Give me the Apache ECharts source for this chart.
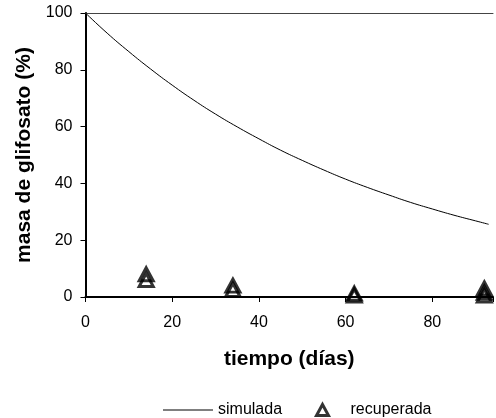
<!DOCTYPE html>
<html><head><meta charset="utf-8">
<script src="https://cdn.jsdelivr.net/npm/echarts@6/dist/echarts.min.js"></script>
<style>html,body{margin:0;padding:0;background:#fff}#c{width:496px;height:418px}</style>
</head><body><div id="c"></div>
<script>
const simDays = [0, 5, 10, 15, 20, 25, 30, 35, 40, 45, 50, 55, 60, 65, 70, 75, 80, 85, 90, 93];
const simValues = [100, 92.9, 86.4, 80.3, 74.6, 69.3, 64.4, 59.9, 55.7, 51.7, 48.1, 44.7, 41.5, 38.6, 35.9, 33.3, 31.0, 28.8, 26.8, 25.6];
const recDays = [14, 14, 34, 34, 62, 62, 92, 92, 92];
const recValues = [8, 6, 4, 2.5, 1.2, 0.5, 3, 1.5, 0.5];
const xTicks = [0, 20, 40, 60, 80];
const yTicks = [0, 20, 40, 60, 80, 100];

const font = 'Liberation Sans, Arial, sans-serif';
const chart = echarts.init(document.getElementById('c'));
chart.setOption({
  animation: false,
  backgroundColor: '#fff',
  grid: {left: 85.5, right: 0, top: 13, bottom: 121, containLabel: false},
  xAxis: [{
    type: 'value', min: 0, max: 94, interval: 20,
    axisLine: {show: true, lineStyle: {color: '#000', width: 2}},
    axisTick: {show: true, length: 5, lineStyle: {color: '#000', width: 1}},
    axisLabel: {color: '#000', fontSize: 16, fontFamily: font, margin: 18,
      formatter: v => xTicks.includes(v) ? String(v) : ''},
    splitLine: {show: false},
    name: 'tiempo (días)', nameLocation: 'middle', nameGap: 52,
    nameTextStyle: {color: '#000', fontSize: 21, fontWeight: 'bold', fontFamily: font}
  }, {
    type: 'value', position: 'top', min: 0, max: 94,
    axisLine: {show: true, lineStyle: {color: '#444', width: 1}},
    axisTick: {show: false}, axisLabel: {show: false}, splitLine: {show: false}
  }],
  yAxis: {
    type: 'value', min: 0, max: 100, interval: 20,
    axisLine: {show: true, lineStyle: {color: '#000', width: 2}},
    axisTick: {show: true, inside: false, length: 5, lineStyle: {color: '#000', width: 1}},
    axisLabel: {color: '#000', fontSize: 16, fontFamily: font, margin: 13,
      formatter: v => yTicks.includes(v) ? String(v) : ''},
    splitLine: {show: false},
    name: 'masa de glifosato (%)', nameLocation: 'middle', nameGap: 46,
    nameTextStyle: {color: '#000', fontSize: 21, fontWeight: 'bold', fontFamily: font}
  },
  legend: [{
    top: 397, left: 158, itemWidth: 50, itemHeight: 12,
    textStyle: {color: '#000', fontSize: 16, fontFamily: font},
    data: [{name: 'simulada', icon: 'path://M0,0 L50,0 L50,1 L0,1 Z', itemStyle: {color: '#000'}}]
  }, {
    top: 397, left: 310, itemWidth: 12, itemHeight: 11,
    textStyle: {color: '#000', fontSize: 16, fontFamily: font, padding: [0, 0, 0, 17]},
    data: [{name: 'recuperada', icon: 'triangle',
      itemStyle: {color: 'rgba(0,0,0,0)', borderColor: '#000', borderWidth: 3}}]
  }],
  series: [{
    name: 'simulada', type: 'line', smooth: true, showSymbol: false,
    data: simDays.map((d, i) => [d, simValues[i]]),
    lineStyle: {color: '#000', width: 1}, itemStyle: {color: '#000'}
  }, {
    name: 'recuperada', type: 'scatter', symbol: 'triangle', symbolSize: [14, 13],
    data: recDays.map((d, i) => [d, recValues[i]]),
    itemStyle: {color: 'rgba(0,0,0,0)', borderColor: '#000', borderWidth: 3},
    clip: false, z: 5
  }]
});
</script></body></html>
